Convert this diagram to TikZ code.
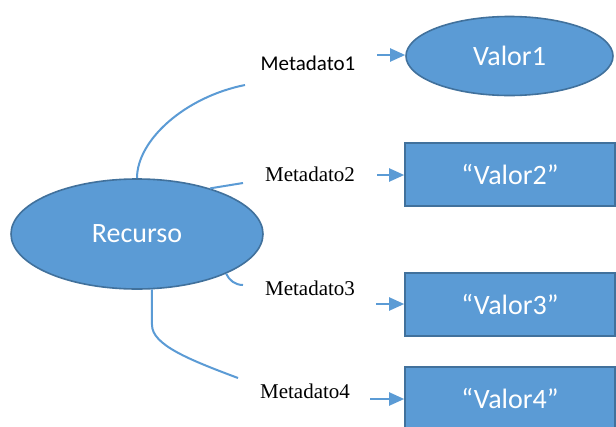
\documentclass[tikz,border=0pt]{standalone}
\usepackage{fontspec}
\setmainfont{Liberation Serif}
\newfontfamily\calib{Carlito}
\usetikzlibrary{arrows.meta,shapes.geometric}
\definecolor{ofill}{HTML}{5B9BD5}
\definecolor{oedge}{HTML}{41719C}
\tikzset{
  blob/.style={ellipse,draw=oedge,line width=1.6pt,fill=ofill,text=white,font=\calib\fontsize{28}{30}\selectfont,inner sep=0pt},
  valbox/.style={rectangle,draw=oedge,line width=1.6pt,fill=ofill,text=white,font=\calib\fontsize{28}{30}\selectfont,inner sep=0pt},
  lbl/.style={font=\fontsize{21}{24}\selectfont,text=black,anchor=base,inner sep=0pt},
  link/.style={draw=ofill,line width=2pt},
  arr/.style={draw=ofill,line width=2pt,-{Triangle[length=15pt,width=13pt]}}
}
\begin{document}
\begin{tikzpicture}[x=1pt,y=-1pt]
\clip (0,0) rectangle (616,426);
\fill[white] (0,0) rectangle (616,426);
% shapes
\node[blob,minimum width=252pt,minimum height=110pt] (rec) at (137,234) {Recurso};
\node[blob,minimum width=207pt,minimum height=79pt] (v1) at (509.5,56) {Valor1};
\node[valbox,minimum width=210pt,minimum height=63pt] (v2) at (510,174.5) {“Valor2”};
\node[valbox,minimum width=210pt,minimum height=63pt] (v3) at (510,304.5) {“Valor3”};
\node[valbox,minimum width=210pt,minimum height=63pt] (v4) at (510,398.5) {“Valor4”};
% labels
\node[lbl,font=\calib\fontsize{21}{24}\selectfont] (m1) at (308,70) {Metadato1};
\node[lbl] (m2) at (310,181) {Metadato2};
\node[lbl] (m3) at (310,295) {Metadato3};
\node[lbl] (m4) at (305,398) {Metadato4};
% free ends
\coordinate (e1) at (245,85);
\coordinate (e2) at (243,183);
\coordinate (e3) at (243,285);
\coordinate (e4) at (238,378);
\coordinate (k4) at (152,325);
\coordinate (a1) at (377,55);
\coordinate (a2) at (377,175);
\coordinate (a3) at (376,304);
\coordinate (a4) at (370,399);
% links
\draw[link] (rec.north) .. controls (137,140) and (185,97) .. (e1);
\draw[link] (rec.32) -- (e2);
\draw[link] (rec.-24) .. controls (229,280) and (235,285) .. (e3);
\draw[link] (rec.-75) -- (k4) .. controls (152,345) and (190,360) .. (e4);
% arrows
\draw[arr] (a1) -- (a1 -| v1.west);
\draw[arr] (a2) -- (a2 -| v2.west);
\draw[arr] (a3) -- (a3 -| v3.west);
\draw[arr] (a4) -- (a4 -| v4.west);
\end{tikzpicture}
\end{document}
